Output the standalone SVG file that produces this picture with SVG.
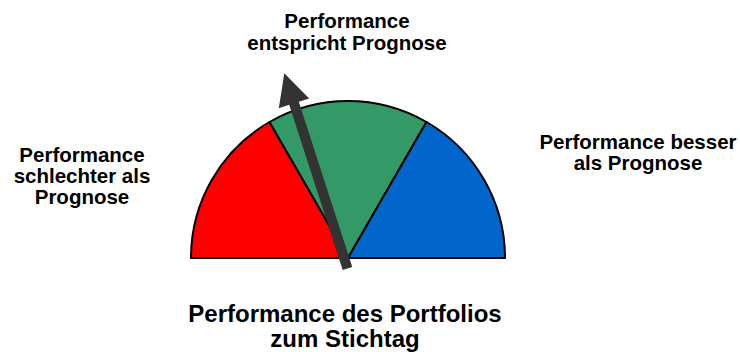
<svg xmlns="http://www.w3.org/2000/svg" width="740" height="352" viewBox="0 0 740 352">
<style>
text{font-family:"Liberation Sans",Arial,sans-serif;font-weight:bold;fill:#000;text-anchor:middle}
.lbl{font-size:20.5px}
.title{font-size:24px}
.seg{stroke:#000;stroke-width:2;stroke-linejoin:round}
</style>
<rect width="740" height="352" fill="#fff"/>
<g id="gauge">
<g id="seg-red"><path class="seg" fill="#FF0000" d="M348,258 L191,258 A157,157 0 0 1 269.5,122 Z"/></g>
<g id="seg-green"><path class="seg" fill="#339966" d="M348,258 L269.5,122 A157,157 0 0 1 426.5,122 Z"/></g>
<g id="seg-blue"><path class="seg" fill="#0066CC" d="M348,258 L426.5,122 A157,157 0 0 1 505,258 Z"/></g>
</g>
<g id="connectors">
<polygon id="needle" fill="#333333" points="342.7,270 352.3,267 298.8,101.8 309.2,98.4 284.3,73.3 278.8,108.2 289.2,104.8"/>
</g>
<g id="label-top">
<text class="lbl" x="347" y="27.5">Performance</text>
<text class="lbl" x="347" y="50">entspricht Prognose</text>
</g>
<g id="label-left">
<text class="lbl" x="82" y="161.5">Performance</text>
<text class="lbl" x="82" y="182.5">schlechter als</text>
<text class="lbl" x="82" y="203.5">Prognose</text>
</g>
<g id="label-right">
<text class="lbl" x="638" y="148.5">Performance besser</text>
<text class="lbl" x="638" y="170">als Prognose</text>
</g>
<g id="title">
<text class="title" x="345" y="321.5">Performance des Portfolios</text>
<text class="title" x="345" y="346.5">zum Stichtag</text>
</g>
</svg>
